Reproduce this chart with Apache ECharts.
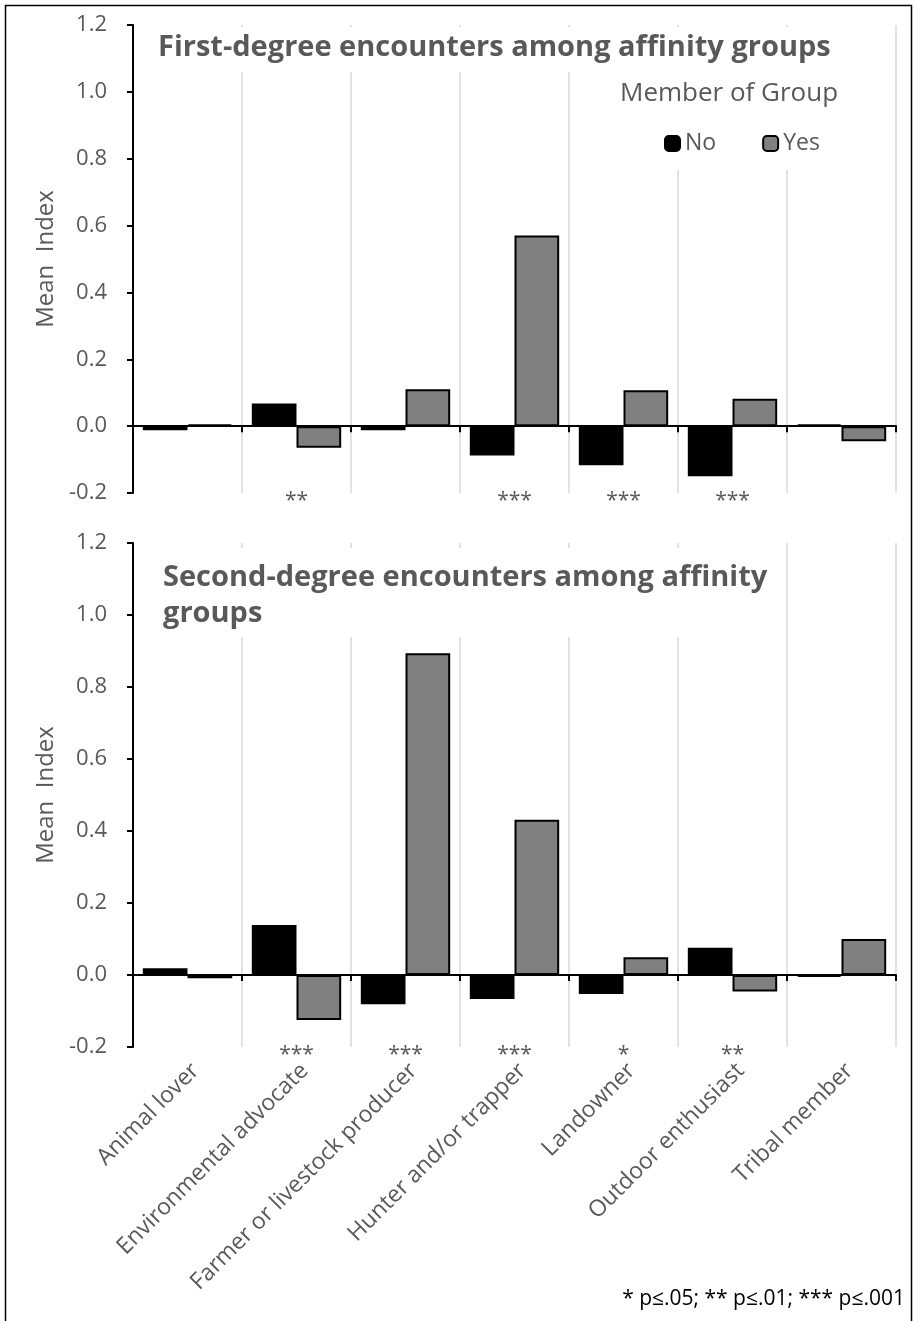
<!DOCTYPE html>
<html>
<head>
<meta charset="utf-8">
<script src="https://cdn.jsdelivr.net/npm/echarts@6/dist/echarts.min.js"></script>
<style>
html,body{margin:0;padding:0;background:#fff;}
#chart{width:916px;height:1321px;}
</style>
</head>
<body>
<div id="chart"></div>
<script>
// ---- data ----
const categories = ['Animal lover', 'Environmental advocate', 'Farmer or livestock producer', 'Hunter and/or trapper', 'Landowner', 'Outdoor enthusiast', 'Tribal member'];
const seriesNames = ['No', 'Yes'];
const firstNo   = [-0.012, 0.068, -0.012, -0.088, -0.117, -0.150, 0.005];
const firstYes  = [0.005, -0.065, 0.110, 0.570, 0.107, 0.082, -0.045];
const secondNo  = [0.019, 0.139, -0.081, -0.067, -0.053, 0.076, -0.005];
const secondYes = [-0.009, -0.125, 0.894, 0.431, 0.049, -0.046, 0.100];
const sigFirst  = ['', '**', '', '***', '***', '***', ''];
const sigSecond = ['', '***', '***', '***', '*', '**', ''];
const yMin = -0.2, yMax = 1.2, yStep = 0.2;
const title1 = 'First-degree encounters among affinity groups';
const title2 = 'Second-degree encounters among affinity\ngroups';
const legendTitle = 'Member of Group';
const yName = 'Mean  Index';
const footnote = '* p\u2264.05; ** p\u2264.01; *** p\u2264.001';

// ---- styles ----
const FONT = '"Open Sans", "Noto Sans", sans-serif';
const TXT = '#595959';
const GRIDLINE = '#d9d9d9';

function barX(gi) {
  return {
    type: 'category', gridIndex: gi, data: categories,
    axisLine: { onZero: true, lineStyle: { color: '#000', width: 2 } },
    axisTick: { show: true, length: 6, interval: 0, lineStyle: { color: '#000', width: 2 } },
    axisLabel: { show: false },
    splitLine: { show: true, interval: 0, lineStyle: { color: GRIDLINE, width: 1.5 } }
  };
}
function sigX(gi, sig) {
  return {
    type: 'category', gridIndex: gi, data: categories, position: 'bottom',
    axisLine: { show: false, onZero: false }, axisTick: { show: false }, splitLine: { show: false },
    axisLabel: { interval: 0, margin: -2, color: TXT, fontFamily: FONT, fontSize: 21,
      formatter: (v, i) => sig[i] }
  };
}
function valY(gi) {
  return {
    type: 'value', gridIndex: gi, min: yMin, max: yMax, interval: yStep,
    name: yName, nameLocation: 'middle', nameGap: 74,
    nameTextStyle: { color: TXT, fontFamily: FONT, fontSize: 24 },
    axisLine: { show: true, lineStyle: { color: '#000', width: 2 } },
    axisTick: { show: true, length: 6, lineStyle: { color: '#000', width: 2 } },
    axisLabel: { color: TXT, fontFamily: FONT, fontSize: 22, margin: 26,
      formatter: v => v.toFixed(1) },
    splitLine: { show: false }
  };
}
function barS(name, data, xi, yi, color) {
  return {
    type: 'bar', name: name, data: data, xAxisIndex: xi, yAxisIndex: yi,
    barGap: '0%', barCategoryGap: '18%',
    itemStyle: { color: color, borderColor: '#000', borderWidth: 2 },
    emphasis: { disabled: true }
  };
}

const chart = echarts.init(document.getElementById('chart'), null, { renderer: 'canvas' });
chart.setOption({
  animation: false,
  backgroundColor: '#fff',
  grid: [
    { left: 133, right: 20, top: 25, height: 468 },
    { left: 133, right: 20, top: 543, height: 504 }
  ],
  xAxis: [
    barX(0),
    sigX(0, sigFirst),
    barX(1),
    sigX(1, sigSecond),
    {
      type: 'category', gridIndex: 1, data: categories, position: 'bottom',
      axisLine: { show: false, onZero: false }, axisTick: { show: false }, splitLine: { show: false },
      axisLabel: { interval: 0, rotate: 45, margin: 12, verticalAlign: 'top',
        color: TXT, fontFamily: FONT, fontSize: 23 }
    }
  ],
  yAxis: [valY(0), valY(1)],
  series: [
    barS(seriesNames[0], firstNo, 0, 0, '#000000'),
    barS(seriesNames[1], firstYes, 0, 0, '#808080'),
    barS(seriesNames[0], secondNo, 2, 1, '#000000'),
    barS(seriesNames[1], secondYes, 2, 1, '#808080')
  ],
  legend: {
    z: 10, left: 659, top: 127, itemWidth: 15, itemHeight: 15, itemGap: 46,
    data: seriesNames,
    textStyle: { color: TXT, fontFamily: FONT, fontSize: 23 }
  },
  title: [
    { text: title1, left: 158, top: 33, padding: 0,
      textStyle: { color: TXT, fontFamily: FONT, fontSize: 29, fontWeight: 'bold' } },
    { text: legendTitle, left: 620, top: 81, padding: 0,
      textStyle: { color: TXT, fontFamily: FONT, fontSize: 26, fontWeight: 'normal' } },
    { text: title2, left: 163, top: 560, padding: 0,
      textStyle: { color: TXT, fontFamily: FONT, fontSize: 29, fontWeight: 'bold', lineHeight: 36 } },
    { text: footnote, right: 11, top: 1289, padding: 0,
      textStyle: { color: '#000', fontFamily: FONT, fontSize: 21, fontWeight: 'normal' } }
  ],
  graphic: [
    { type: 'rect', z: 3, silent: true, shape: { x: 139, y: 27, width: 745, height: 45 }, style: { fill: '#fff' } },
    { type: 'rect', z: 3, silent: true, shape: { x: 590, y: 70, width: 294, height: 100 }, style: { fill: '#fff' } },
    { type: 'rect', z: 3, silent: true, shape: { x: 139, y: 548, width: 643, height: 89 }, style: { fill: '#fff' } },
    { type: 'rect', z: 20, silent: true, shape: { x: 5.5, y: 5.5, width: 906, height: 1330 },
      style: { fill: 'none', stroke: '#000', lineWidth: 1.5 } }
  ]
});
</script>
</body>
</html>
